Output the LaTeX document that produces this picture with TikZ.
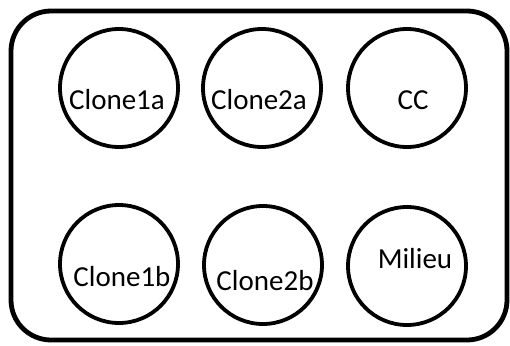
\documentclass[tikz,border=0pt]{standalone}
\usepackage{fontspec}
\setmainfont{Carlito}
\begin{document}
\begin{tikzpicture}[x=1pt,y=-1pt,
  well/.style={circle,draw=black,line width=3.8pt,minimum size=118pt,inner sep=0pt},
  lbl/.style={font=\fontsize{29}{31}\selectfont,inner sep=0pt,anchor=base}]
\useasboundingbox (0,0) rectangle (510,345);
\draw[line width=4.8pt,rounded corners=40pt] (11,11) rectangle (507,340);
\node[well] (w1a) at (119,88) {};
\node[well] (w2a) at (262,88) {};
\node[well] (wcc) at (407,88) {};
\node[well] (w1b) at (119,264) {};
\node[well] (w2b) at (263,265) {};
\node[well] (wmi) at (407,266) {};
\node[lbl] (t1a) at (117,109) {Clone1a};
\node[lbl] (t2a) at (259,109) {Clone2a};
\node[lbl] (tcc) at (413,109) {CC};
\node[lbl] (t1b) at (122,286) {Clone1b};
\node[lbl] (t2b) at (265,290) {Clone2b};
\node[lbl] (tmi) at (415,268) {Milieu};
\end{tikzpicture}
\end{document}
